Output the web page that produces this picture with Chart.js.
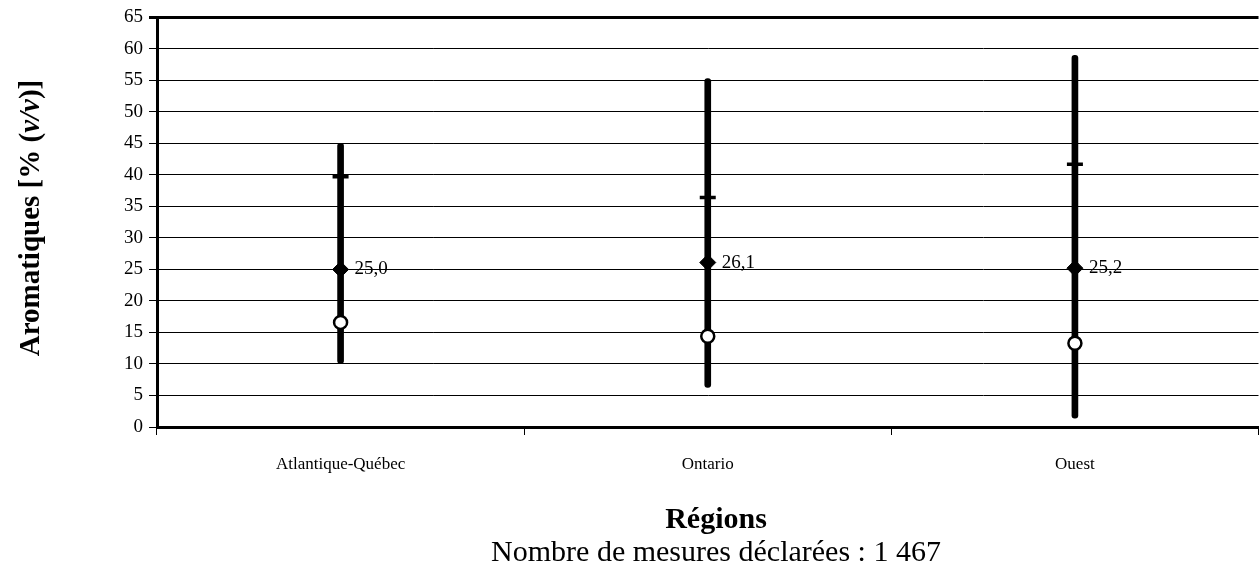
<!DOCTYPE html>
<html>
<head>
<meta charset="utf-8">
<script src="https://cdn.jsdelivr.net/npm/chart.js@4"></script>
<style>
    html, body { margin: 0; padding: 0; background: #fff; overflow: hidden; }
    #wrap { width: 1270px; height: 571px; }
</style>
</head>
<body>
<div id="wrap"><canvas id="aroChart"></canvas></div>
<script>
// Data
const regions = ["Atlantique-Québec", "Ontario", "Ouest"];
const minValues = [10.1, 6.3, 1.4];
const maxValues = [45.0, 55.3, 59.0];
const upperValues = [39.7, 36.4, 41.7];   // horizontal dash
const meanValues = [25.0, 26.1, 25.2];    // diamond, labelled
const lowerValues = [16.6, 14.4, 13.3];   // open circle
const yTicks = [0, 5, 10, 15, 20, 25, 30, 35, 40, 45, 50, 55, 60, 65];

const serif = "'Liberation Serif', 'DejaVu Serif', serif";

// Titles and mean labels
const textPlugin = {
    id: "textPlugin",
    afterDatasetsDraw(chart) {
        const ctx = chart.ctx;
        ctx.save();
        ctx.fillStyle = "#000";

        // mean labels
        const meta = chart.getDatasetMeta(3);
        ctx.font = "19px " + serif;
        ctx.textAlign = "left";
        ctx.textBaseline = "middle";
        meta.data.forEach((pt, i) => {
            ctx.fillText(meanValues[i].toFixed(1).replace(".", ","), pt.x + 14, pt.y);
        });

        // y title with italic v/v
        const parts = [
            ["Aromatiques [% (", "bold 29px " + serif],
            ["v/v", "italic bold 29px " + serif],
            [")]", "bold 29px " + serif]
        ];
        let total = 0;
        parts.forEach(p => { ctx.font = p[1]; total += ctx.measureText(p[0]).width; });
        ctx.translate(32, 218);
        ctx.rotate(-Math.PI / 2);
        ctx.textAlign = "left";
        let x = -total / 2;
        parts.forEach(p => {
            ctx.font = p[1];
            ctx.fillText(p[0], x, 0);
            x += ctx.measureText(p[0]).width;
        });
        ctx.restore();

        ctx.save();
        ctx.fillStyle = "#000";
        ctx.textAlign = "center";
        ctx.textBaseline = "middle";
        ctx.font = "bold 30px " + serif;
        ctx.fillText("Régions", 716, 520);
        ctx.font = "30px " + serif;
        ctx.fillText("Nombre de mesures déclarées : 1 467", 716, 553);
        ctx.restore();
    }
};

new Chart(document.getElementById("aroChart"), {
    data: {
        labels: regions,
        datasets: [
            {
                type: "bar",
                data: regions.map((r, i) => [minValues[i], maxValues[i]]),
                backgroundColor: "#000",
                borderWidth: 0,
                barThickness: 6,
                borderRadius: 3,
                borderSkipped: false,
                order: 4
            },
            {
                type: "line",
                data: upperValues,
                showLine: false,
                pointStyle: "line",
                pointRadius: 8,
                borderColor: "#000",
                borderWidth: 3.5,
                order: 3
            },
            {
                type: "line",
                data: lowerValues,
                showLine: false,
                pointStyle: "circle",
                pointRadius: 6.5,
                backgroundColor: "#fff",
                borderColor: "#000",
                borderWidth: 2.5,
                order: 2
            },
            {
                type: "line",
                data: meanValues,
                showLine: false,
                pointStyle: "rectRot",
                pointRadius: 8,
                backgroundColor: "#000",
                borderColor: "#000",
                borderWidth: 1,
                order: 1
            }
        ]
    },
    options: {
        responsive: true,
        maintainAspectRatio: false,
        animation: false,
        layout: { padding: { top: 17, right: 3, left: 0, bottom: 0 } },
        plugins: {
            legend: { display: false },
            tooltip: { enabled: false }
        },
        scales: {
            x: {
                offset: true,
                grid: {
                    offset: true,
                    drawOnChartArea: false,
                    drawTicks: true,
                    tickLength: 8,
                    color: "#000",
                    lineWidth: 1
                },
                border: { color: "#000", width: 3 },
                ticks: {
                    color: "#000",
                    font: { family: serif, size: 17 },
                    padding: 19,
                    maxRotation: 0
                },
                afterFit(scale) { scale.height = 144; }
            },
            y: {
                min: 0,
                max: 65,
                afterBuildTicks(scale) {
                    scale.ticks = yTicks.map(v => ({ value: v }));
                },
                grid: {
                    color: "#000",
                    lineWidth: ctx => (ctx.tick && ctx.tick.value === 65 ? 3 : 1),
                    tickLength: 8
                },
                border: { color: "#000", width: 3 },
                ticks: {
                    color: "#000",
                    font: { family: serif, size: 19 },
                    padding: 6
                },
                afterFit(scale) { scale.width = 157; }
            }
        }
    },
    plugins: [textPlugin]
});
</script>
</body>
</html>
